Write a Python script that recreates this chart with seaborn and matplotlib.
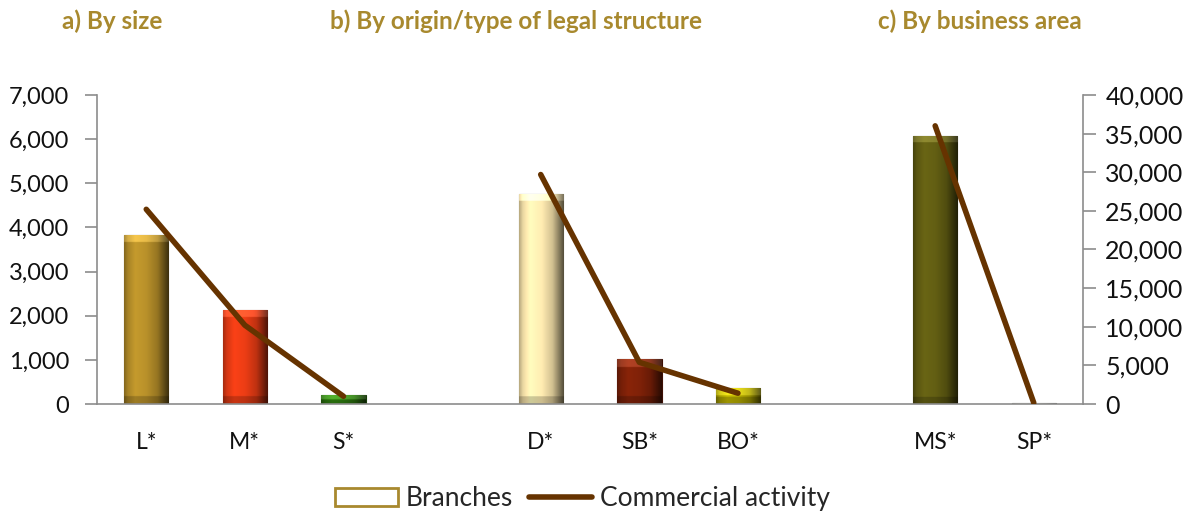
import numpy as np
import pandas as pd
import matplotlib
matplotlib.use("Agg")
import matplotlib.pyplot as plt
import seaborn as sns
from matplotlib.colors import to_rgb
from matplotlib.lines import Line2D
from matplotlib.patches import Patch
from matplotlib.ticker import FuncFormatter, MultipleLocator

# slot order on the x axis, "gap" slots separate the three panels
order = ["L*", "M*", "S*", "gap1", "D*", "SB*", "BO*", "gap2", "MS*", "SP*"]
groups = [["L*", "M*", "S*"], ["D*", "SB*", "BO*"], ["MS*", "SP*"]]

categories = ["L*", "M*", "S*", "D*", "SB*", "BO*", "MS*", "SP*"]
branches = [3830, 2130, 200, 4760, 1010, 360, 6070, 20]
commercial = [25200, 10200, 1000, 29700, 5400, 1400, 36000, 150]
bar_colors = ["#B08A28", "#E03A14", "#2E7A10", "#F6E2AA",
              "#7A2008", "#B0A600", "#5E5A12", "#D0D0C0"]

titles = ["a) By size", "b) By origin/type of legal structure", "c) By business area"]
title_x = [0.052, 0.277, 0.737]

gold = "#A8892E"
line_col = "#663300"
axis_grey = "#8C8C8C"

sns.set_theme(style="white")
plt.rcParams["font.family"] = ["Lato", "DejaVu Sans"]

df = pd.DataFrame({"cat": categories, "branches": branches, "commercial": commercial})

fig = plt.figure(figsize=(11.91, 5.16), dpi=100)
ax = fig.add_axes([0.0814, 0.217, 0.828, 0.599])

sns.barplot(data=df, x="cat", y="branches", order=order, hue="cat",
            hue_order=categories, palette=bar_colors, legend=False,
            width=0.45, saturation=1, ax=ax, zorder=2)


def bevel(ax, patch):
    # fake Excel bevel: lit left/centre, dark right side, light top band
    x0, y0 = patch.get_x(), patch.get_y()
    w, h = patch.get_width(), patch.get_height()
    if h <= 0:
        return
    base = np.array(to_rgb(patch.get_facecolor()))
    nx, ny = 60, 300
    u = np.linspace(0, 1, nx)
    prof = np.interp(u, [0, 0.08, 0.25, 0.5, 0.75, 0.9, 1.0],
                     [0.75, 0.95, 1.12, 1.05, 0.85, 0.55, 0.35])
    img = np.clip(base[None, None, :] * prof[None, :, None], 0, 1)
    img = np.repeat(img, ny, axis=0)
    # top and bottom bevel bands, roughly 8 px high
    bar_px = h / 7000 * 309
    band = max(1, int(ny * min(0.45, 8 / max(bar_px, 1))))
    img[:band] = np.clip(img[:band] * 1.12 + 0.1, 0, 1)
    img[-band:] = img[-band:] * 0.8
    im = ax.imshow(img, extent=[x0, x0 + w, y0, y0 + h], origin="upper",
                   aspect="auto", zorder=2.5, interpolation="bilinear")
    im.set_clip_path(patch)
    patch.set_edgecolor(tuple(base * 0.5))
    patch.set_linewidth(0.8)


for p in list(ax.patches):
    bevel(ax, p)

ax.set_xlim(-0.5, 9.5)
ax.set_ylim(0, 7000)
ax.yaxis.set_major_locator(MultipleLocator(1000))
ax.yaxis.set_major_formatter(FuncFormatter(lambda v, _: f"{v:,.0f}"))
ax.set_xticks(range(len(order)))
ax.set_xticklabels(["" if c.startswith("gap") else c for c in order])
ax.set_xticks(np.arange(-0.5, 10, 1), minor=True)
ax.tick_params(axis="x", which="major", length=0, pad=20, labelsize=16.5, colors="#111111")
ax.tick_params(axis="x", which="minor", length=10, width=1.2, color=axis_grey, direction="out")
ax.tick_params(axis="y", length=9, width=1.2, color=axis_grey, direction="out",
               labelsize=17, colors="#111111", left=True, pad=11)
ax.set_xlabel("")
ax.set_ylabel("")

ax2 = ax.twinx()
for grp in groups:
    sub = df[df["cat"].isin(grp)]
    pos = [order.index(c) for c in sub["cat"]]
    sns.lineplot(x=pos, y=sub["commercial"].values, ax=ax2, color=line_col,
                 linewidth=4, solid_capstyle="round", zorder=5)
ax2.set_ylim(0, 40000)
ax2.yaxis.set_major_locator(MultipleLocator(5000))
ax2.yaxis.set_major_formatter(FuncFormatter(lambda v, _: f"{v:,.0f}"))
ax2.tick_params(axis="y", length=9, width=1.2, color=axis_grey, direction="out",
                labelsize=18, colors="#111111", right=True, pad=7)
ax2.set_ylabel("")
ax2.set_xlim(-0.5, 9.5)

for a in (ax, ax2):
    a.spines["top"].set_visible(False)
    for s in ("left", "right", "bottom"):
        a.spines[s].set_color(axis_grey)
        a.spines[s].set_linewidth(1.2)
ax.spines["right"].set_visible(False)
ax2.spines["left"].set_visible(False)
ax2.spines["bottom"].set_visible(False)

for t, x in zip(titles, title_x):
    fig.text(x, 0.958, t, color=gold, fontsize=17.5, fontweight="bold",
             ha="left", va="center")

handles = [Patch(facecolor="white", edgecolor=gold, linewidth=2),
           Line2D([0], [0], color=line_col, linewidth=4, solid_capstyle="round")]
fig.legend(handles, ["Branches", "Commercial activity"], loc="center",
           bbox_to_anchor=(0.489, 0.033), ncol=2, frameon=False, fontsize=19,
           handlelength=2.4, handletextpad=0.3, columnspacing=0.6)

fig.savefig("out.png", dpi=100)
